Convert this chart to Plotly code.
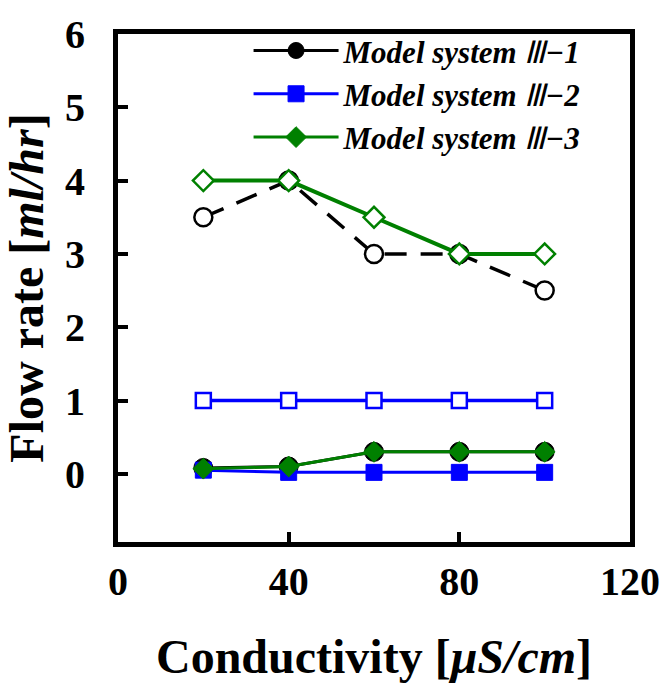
import plotly.graph_objects as go

conductivity = [20, 40, 60, 80, 100]

# Model system III-1 (black circles)
s1_high = [3.5, 4.0, 3.0, 3.0, 2.5]
s1_low = [0.08, 0.1, 0.3, 0.3, 0.3]
# Model system III-2 (blue squares)
s2_high = [1.0, 1.0, 1.0, 1.0, 1.0]
s2_low = [0.05, 0.02, 0.02, 0.02, 0.02]
# Model system III-3 (green diamonds)
s3_high = [4.0, 4.0, 3.5, 3.0, 3.0]
s3_low = [0.07, 0.1, 0.3, 0.3, 0.3]

names = ["Model system <span style='font-weight:normal'>Ⅲ</span>−1",
         "Model system <span style='font-weight:normal'>Ⅲ</span>−2",
         "Model system <span style='font-weight:normal'>Ⅲ</span>−3"]

x_ticks = [0, 40, 80, 120]
y_ticks = [0, 1, 2, 3, 4, 5, 6]

BLACK = "#000000"
BLUE = "#0000FF"
GREEN = "#008000"
FONT = "Liberation Serif"

fig = go.Figure()

# series 1
fig.add_trace(go.Scatter(x=conductivity, y=s1_low, mode="lines+markers", name=names[0],
                         line=dict(color=BLACK, width=3),
                         marker=dict(symbol="circle", size=19, color=BLACK,
                                     line=dict(color=BLACK, width=1))))
fig.add_trace(go.Scatter(x=conductivity, y=s1_high, mode="lines+markers", showlegend=False,
                         line=dict(color=BLACK, width=3.5, dash="22px,14px"),
                         marker=dict(symbol="circle", size=18, color="white",
                                     line=dict(color=BLACK, width=2.5))))
# series 2
fig.add_trace(go.Scatter(x=conductivity, y=s2_low, mode="lines+markers", name=names[1],
                         line=dict(color=BLUE, width=3),
                         marker=dict(symbol="square", size=16, color=BLUE,
                                     line=dict(color=BLUE, width=1))))
fig.add_trace(go.Scatter(x=conductivity, y=s2_high, mode="lines+markers", showlegend=False,
                         line=dict(color=BLUE, width=3.5),
                         marker=dict(symbol="square", size=15, color="white",
                                     line=dict(color=BLUE, width=2.5))))
# series 3
fig.add_trace(go.Scatter(x=conductivity, y=s3_low, mode="lines+markers", name=names[2],
                         line=dict(color=GREEN, width=3),
                         marker=dict(symbol="diamond", size=16, color=GREEN,
                                     line=dict(color=GREEN, width=1))))
fig.add_trace(go.Scatter(x=conductivity, y=s3_high, mode="lines+markers", showlegend=False,
                         line=dict(color=GREEN, width=4),
                         marker=dict(symbol="diamond", size=16, color="white",
                                     line=dict(color=GREEN, width=2.5))))

fig.update_layout(
    width=672, height=689,
    margin=dict(l=118, r=36, t=28, b=147),
    paper_bgcolor="white", plot_bgcolor="white",
    font=dict(family=FONT, color=BLACK),
    showlegend=True,
    legend=dict(x=0.255, y=1.02, xanchor="left", yanchor="top",
                bgcolor="rgba(0,0,0,0)", borderwidth=0,
                font=dict(family=FONT, size=31, color=BLACK, style="italic", weight="bold"),
                itemwidth=85, tracegroupgap=0),
    xaxis=dict(range=[0, 120], tickvals=x_ticks, ticktext=[str(v) for v in x_ticks],
               showgrid=False, zeroline=False,
               showline=True, linecolor=BLACK, linewidth=5, mirror=True,
               ticks="inside", ticklen=10, tickwidth=3.5, tickcolor=BLACK,
               tickfont=dict(family=FONT, size=40, color=BLACK, weight="bold"),
               ticklabelstandoff=0,
               title=dict(text="Conductivity [<i>μS/cm</i>]",
                          font=dict(family=FONT, size=48, color=BLACK, weight="bold"),
                          standoff=38)),
    yaxis=dict(range=[-0.93, 6], tickvals=y_ticks, ticktext=[str(v) for v in y_ticks],
               showgrid=False, zeroline=False,
               showline=True, linecolor=BLACK, linewidth=5, mirror=True,
               ticks="inside", ticklen=10, tickwidth=3.5, tickcolor=BLACK,
               tickfont=dict(family=FONT, size=40, color=BLACK, weight="bold"),
               ticklabelstandoff=20,
               title=dict(text="Flow rate [<i>ml/hr</i>]",
                          font=dict(family=FONT, size=48, color=BLACK, weight="bold"),
                          standoff=8)),
)

fig.write_html("out.html")
